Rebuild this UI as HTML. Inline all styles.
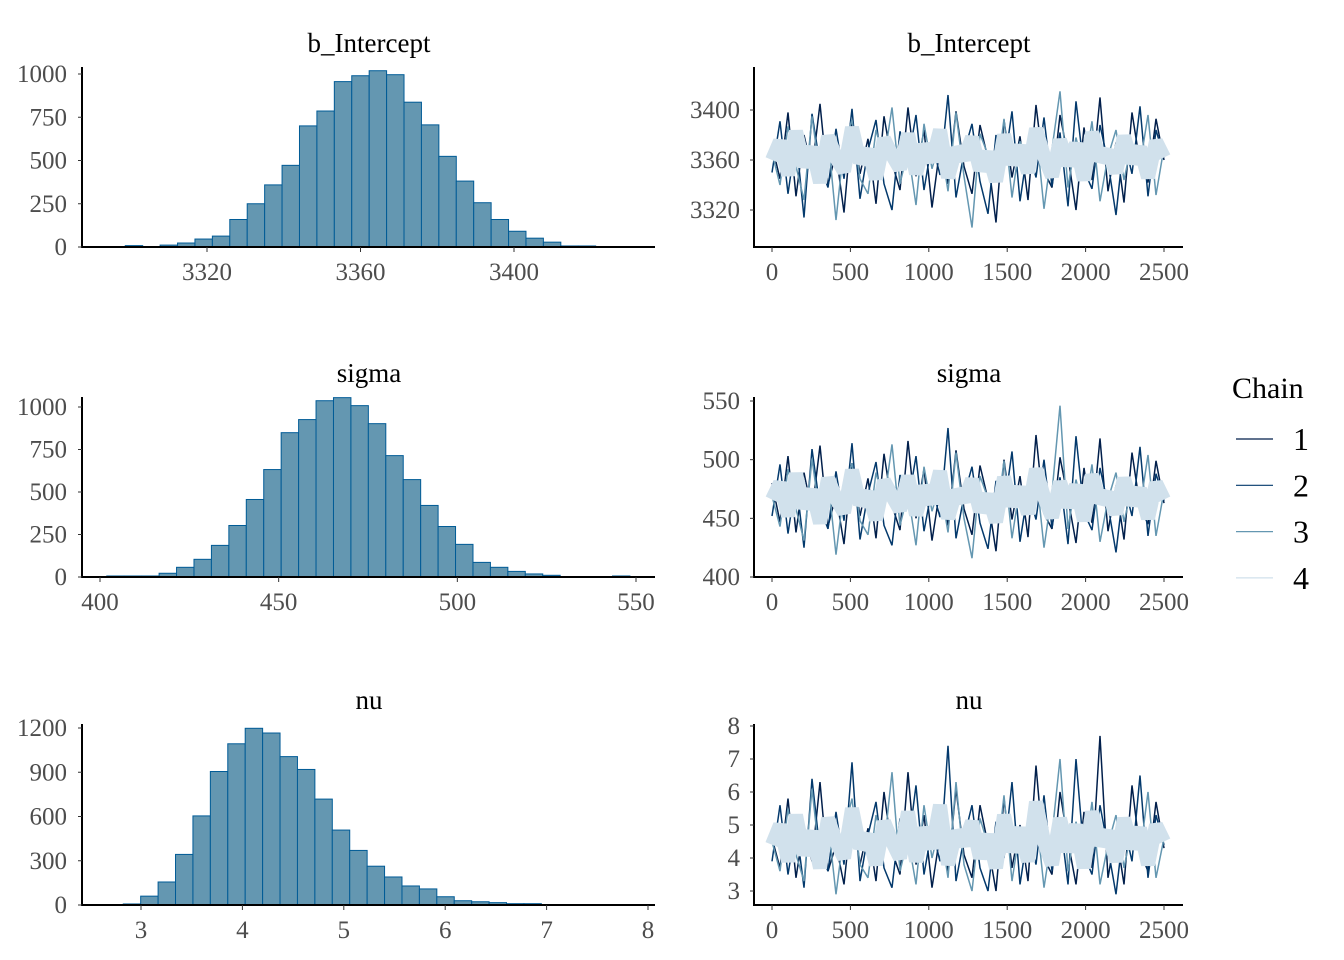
<!DOCTYPE html>
<html><head><meta charset="utf-8"><style>
body{margin:0;background:#fff}
svg{display:block}
text{font-family:"Liberation Serif",serif}
.tk{fill:#4d4d4d;font-size:25px}
.ttl{fill:#000;font-size:27px}
</style></head><body>
<svg id="c" width="1344" height="960" viewBox="0 0 1344 960"></svg>
<script>
// ---- histogram data ----
const h1Start = 3298.7, h1Width = 4.54;
const h1Counts = [8,0,11,23,46,63,159,250,359,472,700,786,956,990,1019,996,837,706,524,381,256,159,91,51,28,6,6];
const h2Start = 401.9, h2Width = 4.88;
const h2Counts = [6,6,6,22,57,104,186,303,456,632,849,926,1037,1055,1008,902,714,573,421,297,192,86,57,33,18,10,0,0,0,6];
const h3Start = 2.825, h3Width = 0.1718;
const h3Counts = [7,60,156,343,604,905,1093,1198,1166,1006,919,718,508,370,263,190,129,109,56,29,22,16,9,9];
const h1XTicks = [3320,3360,3400], h1YTicks = [0,250,500,750,1000];
const h2XTicks = [400,450,500,550], h2YTicks = [0,250,500,750,1000];
const h3XTicks = [3,4,5,6,7,8], h3YTicks = [0,300,600,900,1200];
// ---- trace data (iterations spread over 0..2500) ----
const t1c1=[3372,3345,3398,3331,3380,3352,3405,3340,3366,3318,3390,3349,3377,3325,3395,3358,3336,3402,3347,3384,3322,3370,3341,3399,3355,3333,3388,3361,3310,3392,3346,3379,3328,3404,3351,3338,3396,3363,3320,3386,3344,3410,3335,3374,3326,3398,3357,3342,3393,3360];
const t1c2=[3350,3391,3333,3378,3314,3397,3356,3338,3385,3345,3401,3329,3368,3392,3341,3320,3383,3359,3396,3336,3374,3348,3412,3330,3366,3389,3343,3317,3380,3354,3399,3327,3371,3346,3394,3339,3382,3323,3407,3352,3337,3388,3358,3316,3376,3349,3403,3331,3384,3362];
const t1c3=[3366,3340,3387,3355,3328,3395,3348,3379,3312,3372,3392,3345,3333,3384,3360,3402,3341,3368,3324,3389,3353,3376,3335,3398,3347,3306,3381,3364,3343,3393,3330,3375,3357,3386,3321,3369,3415,3338,3378,3350,3391,3327,3363,3384,3344,3374,3356,3396,3332,3370];
const t1c4=[3360,3375,3348,3383,3355,3370,3342,3379,3362,3351,3386,3358,3368,3345,3377,3364,3353,3381,3349,3372,3359,3384,3346,3369,3361,3378,3352,3366,3343,3380,3357,3371,3350,3385,3363,3347,3376,3356,3373,3344,3382,3360,3367,3350,3379,3358,3370,3346,3375,3362];
const t2c1=[480,447,503,438,489,455,512,443,470,428,497,452,484,433,505,461,440,516,450,492,431,475,444,508,458,436,495,466,422,500,449,486,434,521,454,441,502,467,429,493,446,518,439,478,432,506,460,445,499,463];
const t2c2=[452,496,437,483,425,509,459,441,490,448,514,432,471,498,444,427,487,462,503,439,476,451,527,433,469,494,446,424,482,457,507,430,474,449,500,442,485,428,520,455,440,493,461,421,479,452,511,435,488,465];
const t2c3=[469,443,492,458,431,501,451,484,419,475,497,448,436,489,463,513,444,471,427,494,456,479,438,506,450,416,486,467,446,499,433,478,460,491,425,472,546,441,483,453,496,430,466,489,447,477,459,504,435,473];
const t2c4=[466,480,452,488,459,474,446,484,467,455,491,462,472,449,482,469,457,486,453,477,463,490,450,473,465,483,456,470,447,485,461,476,454,492,468,451,481,460,478,448,487,464,471,454,484,462,475,450,480,466];
const t3c1=[4.6,3.7,5.8,3.4,5.0,3.9,6.3,3.6,4.4,3.2,5.5,3.8,4.9,3.3,6.0,4.2,3.5,6.6,3.8,5.3,3.1,4.7,3.6,6.1,4.1,3.4,5.6,4.4,3.0,5.8,3.7,5.0,3.3,6.8,4.0,3.5,6.0,4.5,3.2,5.4,3.7,7.7,3.4,4.8,3.2,6.2,4.2,3.6,5.7,4.3];
const t3c2=[3.9,5.6,3.5,5.0,3.1,6.4,4.2,3.6,5.4,3.8,6.9,3.3,4.7,5.7,3.7,3.1,5.2,4.3,6.2,3.5,4.9,3.9,7.4,3.3,4.6,5.6,3.7,3.0,5.1,4.0,6.3,3.2,4.8,3.8,5.9,3.6,5.2,3.2,7.0,4.1,3.5,5.6,4.3,2.9,5.0,3.9,6.5,3.4,5.3,4.4];
const t3c3=[4.5,3.6,5.5,4.1,3.3,6.1,3.9,5.1,2.9,4.8,5.8,3.8,3.4,5.3,4.3,6.6,3.6,4.6,3.2,5.6,4.0,5.0,3.4,6.3,3.8,3.0,5.2,4.4,3.7,5.9,3.3,4.9,4.1,5.4,3.1,4.7,7.0,3.6,5.1,3.9,5.7,3.2,4.4,5.3,3.7,4.9,4.1,6.0,3.4,4.6];
const t3c4=[4.4,5.0,3.9,5.3,4.1,4.8,3.7,5.2,4.5,4.0,5.5,4.3,4.7,3.8,5.1,4.5,4.0,5.4,3.9,4.9,4.3,5.6,3.8,4.8,4.4,5.1,4.0,4.7,3.7,5.3,4.2,4.9,3.9,5.7,4.5,3.8,5.2,4.2,5.0,3.7,5.4,4.4,4.8,3.9,5.2,4.3,4.9,3.8,5.0,4.5];
const traceXTicks=[0,500,1000,1500,2000,2500];
const t1YTicks=[3320,3360,3400], t2YTicks=[400,450,500,550], t3YTicks=[3,4,5,6,7,8];
const chainNames=["1","2","3","4"];
const chainColors=["#011f4b","#03396c","#6497b1","#d1e1ec"];

const svg=document.getElementById('c');
const NS='http://www.w3.org/2000/svg';
function el(tag,attrs,parent){const e=document.createElementNS(NS,tag);for(const k in attrs)e.setAttribute(k,attrs[k]);(parent||svg).appendChild(e);return e;}
function lin(d0,d1,r0,r1){return v=>r0+(v-d0)*(r1-r0)/(d1-d0);}

function hist(name,title,start,width,counts,xt,yt,X,Y,axY,topY){
  const g=el('g',{});
  
  
  const t=el('text',{x:369,y:topY-15,'text-anchor':'middle',class:'ttl'},g);t.textContent=title;
  
  
  counts.forEach((c,i)=>{ if(c<=0)return;
    const x0=X(start+i*width),x1=X(start+(i+1)*width);
    const r=el('rect',{x:x0,y:Y(c),width:x1-x0,height:Y(0)-Y(c),fill:'#6497b1',stroke:'#005b96','stroke-width':1},g);
    
    
  });
  el('line',{x1:82,x2:82,y1:topY,y2:axY,stroke:'#000','stroke-width':2},g);
  el('line',{x1:81,x2:655,y1:axY,y2:axY,stroke:'#000','stroke-width':2},g);
  yt.forEach(v=>{el('line',{x1:78,x2:82,y1:Y(v),y2:Y(v),stroke:'#333'},g);
    const tx=el('text',{x:67,y:Y(v)+8,'text-anchor':'end',class:'tk'},g);tx.textContent=v;
    
    });
  xt.forEach(v=>{el('line',{x1:X(v),x2:X(v),y1:axY,y2:axY+5,stroke:'#333'},g);
    const tx=el('text',{x:X(v),y:axY+33,'text-anchor':'middle',class:'tk'},g);tx.textContent=v;
    
    });
}
function trace(name,title,chains,yt,Y,axY,topY){
  const g=el('g',{});
  
  
  const X=lin(0,2500,772,1164);
  const t=el('text',{x:969,y:topY-15,'text-anchor':'middle',class:'ttl'},g);t.textContent=title;
  
  
  chains.forEach((arr,ci)=>{
    const n=arr.length;
    const pts=arr.map((v,i)=>X(i*2500/(n-1)).toFixed(1)+','+Y(v).toFixed(1)).join(' ');
    const p=el('polyline',{points:pts,fill:'none',stroke:chainColors[ci],'stroke-width':ci==3?14:1.5,'stroke-linejoin':'bevel','stroke-linecap':'butt'},g);
    
    
  });
  el('line',{x1:754,x2:754,y1:topY,y2:axY,stroke:'#000','stroke-width':2},g);
  el('line',{x1:753,x2:1183,y1:axY,y2:axY,stroke:'#000','stroke-width':2},g);
  yt.forEach(v=>{el('line',{x1:750,x2:754,y1:Y(v),y2:Y(v),stroke:'#333'},g);
    const tx=el('text',{x:740,y:Y(v)+8,'text-anchor':'end',class:'tk'},g);tx.textContent=v;
    
    });
  traceXTicks.forEach(v=>{el('line',{x1:X(v),x2:X(v),y1:axY,y2:axY+5,stroke:'#333'},g);
    const tx=el('text',{x:X(v),y:axY+33,'text-anchor':'middle',class:'tk'},g);tx.textContent=v;
    
    });
}
hist('b-intercept','b_Intercept',h1Start,h1Width,h1Counts,h1XTicks,h1YTicks,lin(3320,3400,207,514),lin(0,1000,247,74),247,67);
hist('sigma','sigma',h2Start,h2Width,h2Counts,h2XTicks,h2YTicks,lin(400,550,100,636),lin(0,1000,577,407),577,397);
hist('nu','nu',h3Start,h3Width,h3Counts,h3XTicks,h3YTicks,lin(3,8,141,648),lin(0,1200,905,728),905,724);
trace('b-intercept','b_Intercept',[t1c1,t1c2,t1c3,t1c4],t1YTicks,lin(3320,3400,210,110),247,67);
trace('sigma','sigma',[t2c1,t2c2,t2c3,t2c4],t2YTicks,lin(400,550,577,401),577,397);
trace('nu','nu',[t3c1,t3c2,t3c3,t3c4],t3YTicks,lin(3,8,891,726),905,724);
// legend
const lg=el('g',{});


const lt=el('text',{x:1232,y:398,style:'font-size:30px;fill:#000'},lg);lt.textContent='Chain';


chainNames.forEach((c,i)=>{
  const y=439+i*46.3;
  const ln=el('line',{x1:1236,x2:1273,y1:y,y2:y,stroke:chainColors[i],'stroke-width':1.2},lg);
  
  
  const tx=el('text',{x:1293,y:y+11,style:'font-size:32px;fill:#000'},lg);tx.textContent=c;
  
  
});
</script>
</body></html>
